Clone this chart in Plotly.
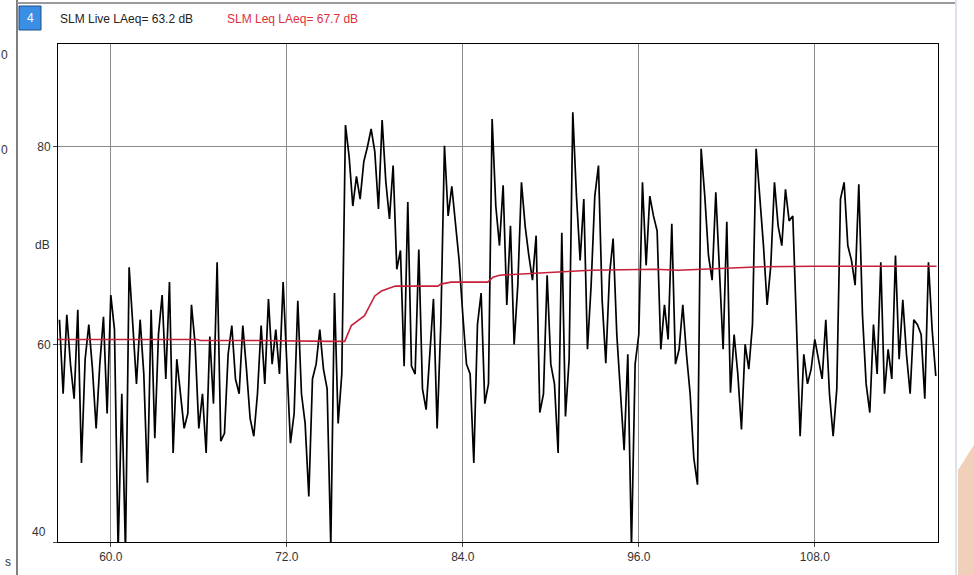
import plotly.graph_objects as go

# SLM live LAeq trace, one value every 0.25 s starting at 56.5 s
t_start = 56.5
t_step = 0.25
live_db = [
    62.5, 55.0, 63.0, 58.0, 54.5, 63.5, 48.0, 58.5,
    62.0, 57.5, 51.5, 58.0, 62.8, 53.0, 65.0, 61.5,
    39.0, 55.0, 39.0, 67.8, 62.0, 56.0, 62.5, 57.0,
    46.0, 63.5, 50.5, 61.0, 65.0, 56.5, 66.3, 49.0,
    58.5, 55.0, 51.5, 53.0, 64.0, 60.0, 51.5, 55.0,
    49.0, 60.8, 54.0, 68.3, 50.2, 51.0, 59.0, 61.9,
    56.5, 55.0, 61.9, 57.5, 52.5, 50.7, 55.0, 61.9,
    56.0, 64.6, 58.0, 61.5, 57.0, 66.3, 58.5, 50.0,
    53.0, 64.4, 55.0, 52.0, 44.6, 56.5, 58.0, 61.5,
    57.5, 55.5, 39.5, 65.2, 52.0, 57.0, 82.2, 79.0,
    74.0, 77.0, 74.7, 78.5, 80.0, 81.8, 79.5, 73.7,
    82.7, 76.5, 72.7, 78.1, 67.6, 69.5, 57.8, 74.4,
    57.8, 57.0, 69.6, 55.5, 53.4, 59.0, 64.6, 51.5,
    62.0, 80.1, 73.0, 76.0, 72.0, 68.5, 63.0, 58.0,
    57.0, 48.0, 62.0, 65.2, 54.0, 56.0, 82.8, 74.0,
    70.0, 76.1, 64.0, 72.0, 60.0, 66.0, 76.4, 72.0,
    69.0, 66.5, 71.0, 53.1, 55.0, 67.0, 58.0, 56.0,
    49.0, 71.3, 52.7, 58.5, 83.5, 75.0, 68.5, 74.7,
    59.5, 66.0, 75.0, 78.1, 64.5, 58.1, 67.0, 70.7,
    61.0, 55.4, 49.3, 59.0, 39.5, 58.0, 61.0, 76.4,
    68.0, 75.0, 73.0, 71.5, 59.5, 64.0, 60.5, 72.2,
    58.0, 59.5, 64.0, 59.0, 55.0, 48.5, 45.8, 79.8,
    75.0, 69.0, 66.5, 75.4, 67.0, 59.5, 72.4, 55.1,
    61.0, 57.0, 51.4, 60.0, 57.5, 62.0, 79.8, 75.0,
    70.0, 64.0, 68.0, 76.4, 72.0, 70.0, 75.7, 72.5,
    73.0, 62.0, 50.7, 59.0, 56.0, 57.5, 60.5, 58.5,
    56.5, 62.5, 55.0, 50.7, 55.5, 74.7, 76.4, 70.0,
    68.5, 66.0, 76.2, 63.0, 56.0, 53.1, 62.0, 57.0,
    68.3, 55.0, 59.5, 56.5, 69.0, 58.5, 64.5, 59.0,
    55.0, 62.5, 62.0, 61.0, 54.5, 68.3, 61.5, 56.8,
]
live_t = [t_start + i * t_step for i in range(len(live_db))]

# running Leq (red)
leq_t = [56.4, 60.0, 65.9, 66.1, 70.0, 75.0, 75.95, 76.4, 77.3, 78.0, 78.45, 79.4,
         82.3, 82.5, 83.2, 85.7, 86.06, 86.5, 87.9, 91.5, 92.7, 97.1, 98.7, 100.3,
         104.4, 108.0, 116.3]
leq_db = [60.5, 60.5, 60.5, 60.4, 60.4, 60.3, 60.3, 61.9, 62.9, 64.9, 65.4, 65.9,
          65.9, 66.1, 66.3, 66.3, 66.8, 67.0, 67.1, 67.4, 67.5, 67.6, 67.5, 67.6,
          67.85, 67.9, 67.9]

x_ticks = [60.0, 72.0, 84.0, 96.0, 108.0]
y_ticks = [40, 60, 80]
live_label = "SLM Live LAeq= 63.2 dB"
leq_label = "SLM Leq LAeq= 67.7 dB"
panel_no = "4"

FONT = "Liberation Sans, Arial, sans-serif"
W, H = 974, 575
L, R, T, B = 58, 36, 44, 33


def px(x):
    # screen pixel -> paper x (paper is the plot area in plotly)
    return (x - L) / (W - L - R)


def py(y):
    return (H - B - y) / (H - T - B)


fig = go.Figure()
fig.add_trace(go.Scatter(x=live_t, y=live_db, mode="lines", line=dict(color="black", width=1.7),
                         name=live_label, showlegend=False))
fig.add_trace(go.Scatter(x=leq_t, y=leq_db, mode="lines", line=dict(color="#c8203a", width=1.6),
                         name=leq_label, showlegend=False))

axis_common = dict(showgrid=True, gridcolor="#8a8a8a", gridwidth=1, showline=True, linecolor="black",
                   linewidth=1, mirror=True, ticks="outside", ticklen=4, tickcolor="#444", zeroline=False,
                   tickfont=dict(family=FONT, size=12, color="#333"))

fig.update_xaxes(range=[56.4, 116.4], tickvals=x_ticks, ticktext=[f"{v:.1f}" for v in x_ticks], **axis_common)
fig.update_yaxes(range=[40, 90.4], tickvals=y_ticks, ticktext=["" if v == 40 else str(v) for v in y_ticks],
                 **axis_common)

small = dict(family=FONT, size=12, color="#333")
ann = [
    dict(x=px(48), y=py(532), text=str(y_ticks[0]), xanchor="right", font=small),
    dict(x=px(58), y=py(19), text=live_label, xanchor="left", font=dict(family=FONT, size=12, color="#222")),
    dict(x=px(225), y=py(19), text=leq_label, xanchor="left", font=dict(family=FONT, size=12, color="#e0303c")),
    dict(x=px(30), y=py(18), text=panel_no, font=dict(family=FONT, size=12, color="white")),
    dict(x=px(42), y=py(245), text="dB", font=small),
    dict(x=px(8), y=py(562), text="s", font=small),
    dict(x=px(10), y=py(55), text="0", xanchor="right", font=small),
    dict(x=px(10), y=py(150), text="0", xanchor="right", font=small),
]
for a in ann:
    a["xref"] = "paper"
    a["yref"] = "paper"
    a["showarrow"] = False
    a.setdefault("xanchor", "center")
    a["yanchor"] = "middle"

shapes = [
    # window frame bits around the panel
    dict(type="line", x0=px(17), x1=px(17), y0=py(575), y1=py(0), line=dict(color="#555", width=1.5)),
    dict(type="line", x0=px(17), x1=px(955), y0=py(3), y1=py(3), line=dict(color="#9a9a9a", width=2)),
    dict(type="line", x0=px(956), x1=px(956), y0=py(575), y1=py(0), line=dict(color="#dde3ea", width=2)),
    dict(type="path",
         path=f"M {px(958)} {py(470)} L {px(974)} {py(445)} L {px(974)} {py(575)} L {px(958)} {py(575)} Z",
         fillcolor="#ecc4a8", line=dict(width=0), opacity=0.8),
    # panel number box
    dict(type="rect", x0=px(19), x1=px(41), y0=py(30), y1=py(6),
         fillcolor="#3a8fe4", line=dict(color="#1d4f8a", width=1)),
]
for s in shapes:
    s["xref"] = "paper"
    s["yref"] = "paper"

fig.update_layout(
    width=W, height=H,
    margin=dict(l=L, r=R, t=T, b=B),
    paper_bgcolor="white", plot_bgcolor="white",
    font=dict(family=FONT, size=12, color="#333"),
    annotations=ann, shapes=shapes,
)

fig.write_html("out.html", config={"displayModeBar": False},
               post_script="document.body.style.margin='0';")
